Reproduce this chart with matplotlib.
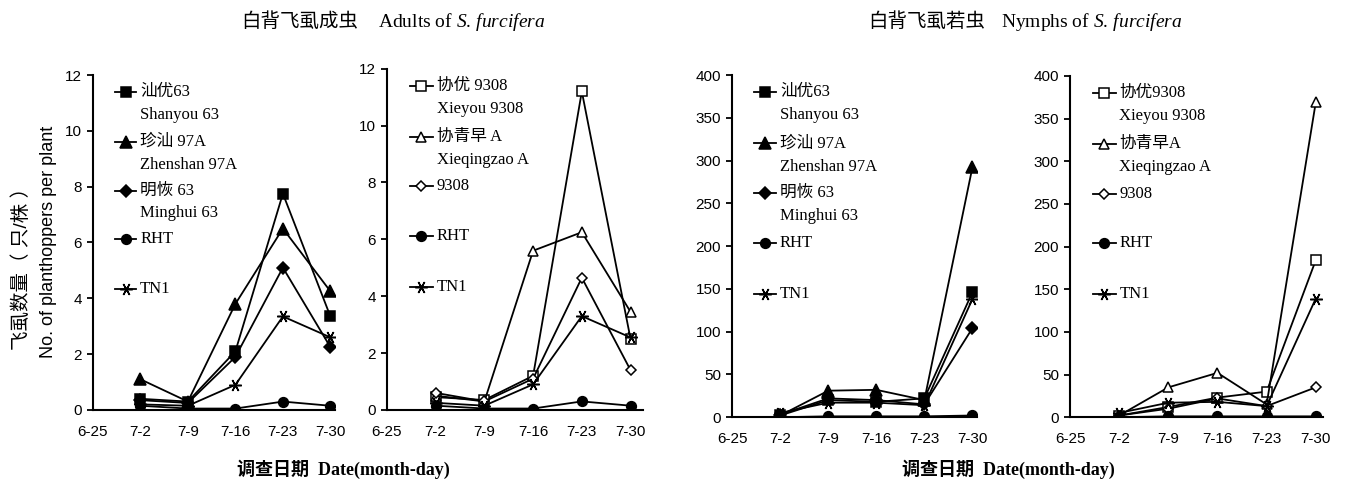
import numpy as np
import matplotlib
matplotlib.use('Agg')
import matplotlib.pyplot as plt

plt.rcParams['font.family'] = ['Liberation Sans', 'Noto Sans CJK SC']
plt.rcParams['mathtext.fontset'] = 'custom'
plt.rcParams['mathtext.rm'] = 'Liberation Serif'
plt.rcParams['mathtext.it'] = 'Liberation Serif:italic'
SERIF = ['Liberation Serif', 'Noto Sans CJK SC']

### data ###
dates = ['6-25', '7-2', '7-9', '7-16', '7-23', '7-30']

# adults, per plant (7-2 .. 7-30)
ad_shanyou63 = [0.4, 0.3, 2.1, 7.75, 3.35]
ad_zhenshan97a = [1.1, 0.3, 3.8, 6.5, 4.25]
ad_minghui63 = [0.35, 0.25, 1.9, 5.1, 2.25]
ad_rht = [0.15, 0.05, 0.05, 0.3, 0.15]
ad_tn1 = [0.2, 0.15, 0.9, 3.35, 2.6]

ad_xieyou9308 = [0.45, 0.35, 1.2, 11.2, 2.5]
ad_xieqingzao = [0.5, 0.3, 5.6, 6.25, 3.45]
ad_9308 = [0.6, 0.3, 1.1, 4.65, 1.4]
ad_rht2 = [0.15, 0.05, 0.05, 0.3, 0.15]
ad_tn1_2 = [0.25, 0.15, 0.9, 3.3, 2.55]

# nymphs, per plant
ny_shanyou63 = [2, 20, 18, 22, 146]
ny_zhenshan97a = [2, 31, 32, 20, 292]
ny_minghui63 = [3, 22, 20, 15, 104]
ny_rht = [0, 1, 1, 1, 2]
ny_tn1 = [5, 17, 17, 14, 138]

ny_xieyou9308 = [2, 12, 23, 30, 184]
ny_xieqingzao = [2, 35, 52, 15, 369]
ny_9308 = [2, 10, 22, 13, 35]
ny_rht2 = [0, 1, 1, 1, 1]
ny_tn1_2 = [5, 17, 18, 13, 139]

x = np.arange(1, len(dates))
star = (6, 2, 90)

def make_set1(v1, v2, v3, v4, v5):
    return [('汕优63', 'Shanyou 63', v1, 's', True, 7),
            ('珍汕 97A', 'Zhenshan 97A', v2, '^', True, 8),
            ('明恢 63', 'Minghui 63', v3, 'D', True, 6),
            ('RHT', None, v4, 'o', True, 7),
            ('TN1', None, v5, star, True, 9)]

def make_set2(v1, v2, v3, v4, v5, cn1='协优 9308', cn2='协青早 A'):
    return [(cn1, 'Xieyou 9308', v1, 's', False, 7),
            (cn2, 'Xieqingzao A', v2, '^', False, 7),
            ('9308', None, v3, 'D', False, 5),
            ('RHT', None, v4, 'o', True, 7),
            ('TN1', None, v5, star, True, 9)]

legend_y = [0.95, 0.80, 0.655, 0.51, 0.36]

def draw_panel(ax, series, ymax, ystep, xmax):
    for i, (cn, en, vals, mk, filled, ms) in enumerate(series):
        fc = 'k' if filled else 'white'
        ax.plot(x, vals, color='k', lw=1.3, marker=mk, ms=ms,
                mfc=fc, mec='k', mew=1.1)
        # hand made legend
        y = legend_y[i]
        ax.plot([0.09, 0.18], [y, y], transform=ax.transAxes, color='k',
                lw=1.3, clip_on=False)
        ax.plot([0.135], [y], transform=ax.transAxes, marker=mk, ms=ms,
                mfc=fc, mec='k', mew=1.1, clip_on=False)
        ax.text(0.195, y, cn, transform=ax.transAxes, va='center',
                family=SERIF, fontsize=12)
        if en:
            ax.text(0.195, y - 0.068, en, transform=ax.transAxes,
                    va='center', family=SERIF, fontsize=12)
    ax.set_xlim(0, xmax)
    ax.set_xticks(np.arange(len(dates)))
    ax.set_xticklabels(dates)
    ax.set_ylim(0, ymax)
    ax.set_yticks(np.arange(0, ymax + 1, ystep))
    for s in ['top', 'right']:
        ax.spines[s].set_visible(False)
    for s in ['left', 'bottom']:
        ax.spines[s].set_linewidth(1.5)
    ax.tick_params(axis='x', length=0, pad=11, labelsize=11)
    ax.tick_params(axis='y', direction='out', length=4, width=1.3,
                   pad=4, labelsize=11)

fig = plt.figure(figsize=(13.46, 4.84), dpi=100)

ax1 = fig.add_axes([0.069, 0.153, 0.18, 0.692])
ax2 = fig.add_axes([0.2875, 0.153, 0.19, 0.705])
ax3 = fig.add_axes([0.544, 0.138, 0.182, 0.707])
ax4 = fig.add_axes([0.795, 0.138, 0.188, 0.705])

draw_panel(ax1, make_set1(ad_shanyou63, ad_zhenshan97a, ad_minghui63,
                          ad_rht, ad_tn1), 12, 2, 5.1)
draw_panel(ax2, make_set2(ad_xieyou9308, ad_xieqingzao, ad_9308,
                          ad_rht2, ad_tn1_2), 12, 2, 5.25)
draw_panel(ax3, make_set1(ny_shanyou63, ny_zhenshan97a, ny_minghui63,
                          ny_rht, ny_tn1), 400, 50, 5.1)
draw_panel(ax4, make_set2(ny_xieyou9308, ny_xieqingzao, ny_9308,
                          ny_rht2, ny_tn1_2, '协优9308', '协青早A'), 400, 50, 5.15)

# titles (chinese part and english part drawn separately)
fig.text(0.266, 0.955, '白背飞虱成虫', ha='right', va='center',
         family=SERIF, fontsize=14)
fig.text(0.281, 0.955, 'Adults of $\\mathit{S.\\,furcifera}$',
         ha='left', va='center', family=SERIF, fontsize=14)
fig.text(0.732, 0.955, '白背飞虱若虫', ha='right', va='center',
         family=SERIF, fontsize=14)
fig.text(0.744, 0.955, 'Nymphs of $\\mathit{S.\\,furcifera}$',
         ha='left', va='center', family=SERIF, fontsize=14)

fig.text(0.255, 0.03, '调查日期  Date(month-day)', ha='center', va='center',
         family=SERIF, fontsize=13, fontweight='bold')
fig.text(0.749, 0.03, '调查日期  Date(month-day)', ha='center', va='center',
         family=SERIF, fontsize=13, fontweight='bold')
fig.text(0.016, 0.455, '飞虱数量（ 只/株 ）', rotation=90, ha='center',
         va='center', fontsize=14)
fig.text(0.036, 0.5, 'No. of planthoppers per plant', rotation=90,
         ha='center', va='center', fontsize=13)

fig.savefig('out.png', dpi=100)
